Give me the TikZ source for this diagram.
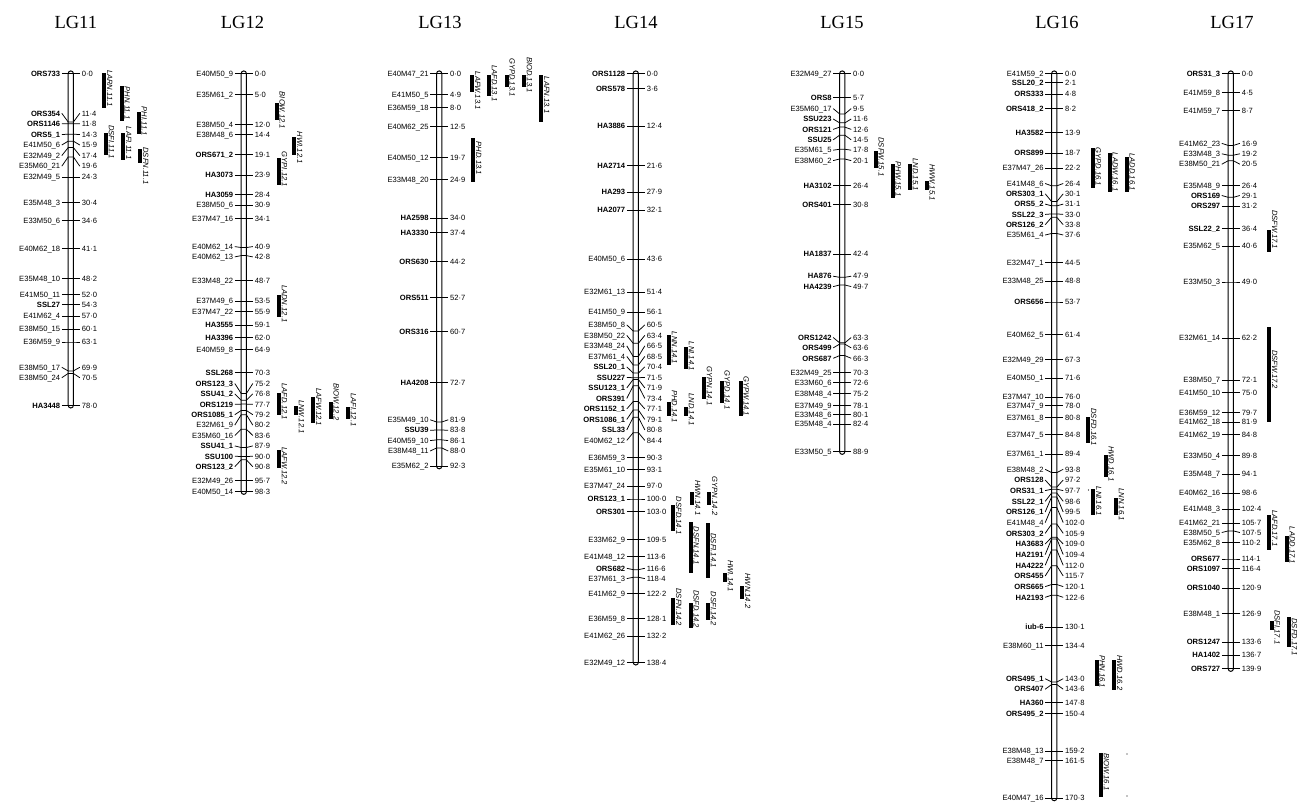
\documentclass[tikz,border=0pt]{standalone}
\usepackage{fontspec}
\setmainfont{Liberation Sans}
\newfontfamily\ttlfont{Liberation Serif}
\tikzset{
  chr/.style={line width=1pt},
  tk/.style={line width=0.75pt},
  mr/.style={anchor=east, inner sep=0pt, font=\fontsize{7.6}{8}\selectfont, text height=5.4pt, text depth=0pt},
  mb/.style={mr, font=\fontsize{7.6}{8}\selectfont\bfseries},
  mnum/.style={anchor=west, inner sep=0pt, font=\fontsize{7.6}{8}\selectfont, text height=5.4pt, text depth=0pt},
  qlab/.style={rotate=-90, anchor=south west, inner sep=0pt, font=\fontsize{7.6}{8}\selectfont\itshape, text depth=0pt},
  ttl/.style={font=\ttlfont\fontsize{18.5}{20}\selectfont, inner sep=0pt},
  speck/.style={fill=black, inner sep=0pt, minimum size=1.1pt, circle}
}
\def\dotnum#1.#2\relax{#1·#2}
\newcount\mkcnt
\newcommand\mk[5]{%
  \global\advance\mkcnt by 1
  \pgfmathsetmacro\ty{73.5+4.255*#2}%
  \pgfmathsetmacro\ly{(#3<0)?\ty:#3}%
  \edef\tmpnum{#2}%
  \draw[tk] (#1-9,\ly) -- (#1-2.6,\ty) -- (#1+2.6,\ty) -- (#1+9,\ly);
  \node[#5] (mk\the\mkcnt) at (#1-10.4,\ly) {#4};
  \node[mnum] (mv\the\mkcnt) at (#1+10.8,\ly) {\expandafter\dotnum\tmpnum\relax};
}
\newcommand\chrom[2]{%
  \pgfmathsetmacro\yb{73.5+4.255*#2+2.6}%
  \draw[chr, rounded corners=2.6pt] (#1-2.6,70.9) rectangle (#1+2.6,\yb);
}
\newcount\qcnt
\newcommand\qtl[5]{%
  \global\advance\qcnt by 1
  \fill (#1-2,#2) rectangle (#1+2,#3);
  \node[qlab] (q\the\qcnt) at (#1+2.7,#4) {#5};
}
\begin{document}
\begin{tikzpicture}[x=1pt,y=-1pt]
\useasboundingbox (0,0) rectangle (1299,803);
\fill[white] (0,0) rectangle (1299,803);
% titles
\node[ttl] (t11) at (75.8,22) {LG11};
\node[ttl] (t12) at (242.5,22) {LG12};
\node[ttl] (t13) at (440,22) {LG13};
\node[ttl] (t14) at (636,22) {LG14};
\node[ttl] (t15) at (842,22) {LG15};
\node[ttl] (t16) at (1057,22) {LG16};
\node[ttl] (t17) at (1232,22) {LG17};
% ---------------- LG11
\chrom{70.8}{78.0}
\foreach \c/\l/\n/\s in {0.0/-1/ORS733/mb, 11.4/113.3/ORS354/mb, 11.8/123.8/ORS1146/mb, 14.3/134.4/ORS5\_1/mb,
 15.9/145.0/E41M50\_6/mr, 17.4/155.6/E32M49\_2/mr, 19.6/166.2/E35M60\_21/mr, 24.3/-1/E32M49\_5/mr,
 30.4/-1/E35M48\_3/mr, 34.6/-1/E33M50\_6/mr, 41.1/-1/E40M62\_18/mr, 48.2/-1/E35M48\_10/mr,
 52.0/-1/E41M50\_11/mr, 54.3/-1/SSL27/mb, 57.0/-1/E41M62\_4/mr, 60.1/-1/E38M50\_15/mr,
 63.1/-1/E36M59\_9/mr, 69.9/367.3/E38M50\_17/mr, 70.5/377.7/E38M50\_24/mr, 78.0/-1/HA3448/mb}
 {\mk{70.8}{\c}{\l}{\n}{\s}}
\qtl{104.3}{73.3}{108.3}{70}{LARN.11.1}
\qtl{121.7}{86}{121}{86.7}{PHN.11.1}
\qtl{138.7}{111.7}{134}{106.7}{PHI.11.1}
\qtl{106}{132.7}{155}{125}{DSFI.11.1}
\qtl{123.3}{132.7}{160}{126.7}{LAFI.11.1}
\qtl{140.3}{149.3}{162.7}{147.3}{DSFN.11.1}
% ---------------- LG12
\chrom{243.8}{98.3}
\foreach \c/\l/\n/\s in {0.0/-1/E40M50\_9/mr, 5.0/-1/E35M61\_2/mr, 12.0/-1/E38M50\_4/mr, 14.4/-1/E38M48\_6/mr,
 19.1/-1/ORS671\_2/mb, 23.9/-1/HA3073/mb, 28.4/-1/HA3059/mb, 30.9/-1/E38M50\_6/mr, 34.1/-1/E37M47\_16/mr,
 40.9/246.6/E40M62\_14/mr, 42.8/256.9/E40M62\_13/mr, 48.7/-1/E33M48\_22/mr, 53.5/-1/E37M49\_6/mr,
 55.9/-1/E37M47\_22/mr, 59.1/-1/HA3555/mb, 62.0/-1/HA3396/mb, 64.9/-1/E40M59\_8/mr, 70.3/-1/SSL268/mb,
 75.2/383.5/ORS123\_3/mb, 76.8/393.9/SSU41\_2/mb, 77.7/404.3/ORS1219/mb, 79.2/414.7/ORS1085\_1/mb,
 80.2/425.1/E32M61\_9/mr, 83.6/435.5/E35M60\_16/mr, 87.9/445.9/SSU41\_1/mb, 90.0/456.3/SSU100/mb,
 90.8/466.7/ORS123\_2/mb, 95.7/-1/E32M49\_26/mr, 98.3/-1/E40M50\_14/mr}
 {\mk{243.8}{\c}{\l}{\n}{\s}}
\qtl{276.7}{103.3}{120}{91.7}{BIOW.12.1}
\qtl{294.3}{136.7}{155}{131.7}{HWI.12.1}
\qtl{279}{158.3}{185}{151.7}{GYPI.12.1}
\qtl{279}{295}{316.7}{285}{LADN.12.1}
\qtl{279}{393.3}{415}{383.3}{LAFD.12.1}
\qtl{296}{406}{415}{400}{LNW.12.1}
\qtl{313.3}{397}{423}{388}{LAFW.12.1}
\qtl{330.7}{401.7}{419}{383.3}{BIOW.12.2}
\qtl{348}{406.7}{419}{393.3}{LAFI.12.1}
\qtl{279}{450}{468}{447}{LAFW.12.2}
% ---------------- LG13
\chrom{439.2}{92.3}
\foreach \c/\l/\n/\s in {0.0/-1/E40M47\_21/mr, 4.9/-1/E41M50\_5/mr, 8.0/-1/E36M59\_18/mr, 12.5/-1/E40M62\_25/mr,
 19.7/-1/E40M50\_12/mr, 24.9/-1/E33M48\_20/mr, 34.0/-1/HA2598/mb, 37.4/-1/HA3330/mb, 44.2/-1/ORS630/mb,
 52.7/-1/ORS511/mb, 60.7/-1/ORS316/mb, 72.7/-1/HA4208/mb, 81.9/419.8/E35M49\_10/mr, 83.8/430.2/SSU39/mb,
 86.1/440.6/E40M59\_10/mr, 88.0/451.0/E38M48\_11/mr, 92.3/-1/E35M62\_2/mr}
 {\mk{439.2}{\c}{\l}{\n}{\s}}
\qtl{472.3}{75}{91.7}{71.7}{LAFW.13.1}
\qtl{489}{75}{96}{65}{LAFD.13.1}
\qtl{506.7}{75}{87.3}{58}{GYPD.13.1}
\qtl{524}{75}{87.3}{57}{BIOD.13.1}
\qtl{541.3}{75}{121.7}{76.7}{LAFN.13.1}
\qtl{473.3}{138.3}{181.7}{141.7}{PHD.13.1}
% ---------------- LG14
\chrom{635.8}{138.4}
\foreach \c/\l/\n/\s in {0.0/-1/ORS1128/mb, 3.6/-1/ORS578/mb, 12.4/-1/HA3886/mb, 21.6/-1/HA2714/mb,
 27.9/-1/HA293/mb, 32.1/-1/HA2077/mb, 43.6/-1/E40M50\_6/mr, 51.4/-1/E32M61\_13/mr, 56.1/-1/E41M50\_9/mr,
 60.5/324.9/E38M50\_8/mr, 63.4/335.4/E38M50\_22/mr, 66.5/345.9/E33M48\_24/mr, 68.5/356.4/E37M61\_4/mr,
 70.4/366.9/SSL20\_1/mb, 71.5/377.4/SSU227/mb, 71.9/387.9/SSU123\_1/mb, 73.4/398.4/ORS391/mb,
 77.1/408.9/ORS1152\_1/mb, 79.1/419.4/ORS1086\_1/mb, 80.8/429.9/SSL33/mb, 84.4/440.4/E40M62\_12/mr,
 90.3/-1/E36M59\_3/mr, 93.1/-1/E35M61\_10/mr, 97.0/-1/E37M47\_24/mr, 100.0/-1/ORS123\_1/mb,
 103.0/-1/ORS301/mb, 109.5/-1/E33M62\_9/mr, 113.6/-1/E41M48\_12/mr, 116.6/568.3/ORS682/mb,
 118.4/578.6/E37M61\_3/mr, 122.2/-1/E41M62\_9/mr, 128.1/-1/E36M59\_8/mr, 132.2/-1/E41M62\_26/mr,
 138.4/-1/E32M49\_12/mr}
 {\mk{635.8}{\c}{\l}{\n}{\s}}
\qtl{669}{335}{365}{331.7}{LNN.14.1}
\qtl{686}{346.7}{369.3}{341.7}{LNI.14.1}
\qtl{704}{376.7}{399.3}{366.7}{GYPN.14.1}
\qtl{721.7}{380.7}{402.7}{370.7}{GYPD.14.1}
\qtl{740.7}{380.7}{416}{376}{GYPW.14.1}
\qtl{669}{401.7}{416}{390}{PHD.14.1}
\qtl{686}{406.7}{416}{393.3}{LND.14.1}
\qtl{692.3}{491.7}{505}{480}{HWN.14.1}
\qtl{709.3}{491.7}{505}{476.7}{GYPN.14.2}
\qtl{673.3}{505}{531}{496.7}{DSFD.14.1}
\qtl{690.7}{521.7}{573.3}{526.7}{DSFN.14.1}
\qtl{708}{523.3}{577.7}{533.3}{DSFI.14.1}
\qtl{725}{573.3}{581.7}{560}{HWI.14.1}
\qtl{742.3}{586}{599.3}{573.3}{HWN.14.2}
\qtl{673.3}{598.3}{625}{588.3}{DSFN.14.2}
\qtl{690.7}{602.7}{628}{590}{DSFD.14.2}
\qtl{708}{602.7}{620}{591.7}{DSFI.14.2}
% ---------------- LG15
\chrom{842.2}{88.9}
\foreach \c/\l/\n/\s in {0.0/-1/E32M49\_27/mr, 5.7/-1/ORS8/mb, 9.5/108.6/E35M60\_17/mr, 11.6/119.0/SSU223/mb,
 12.6/129.4/ORS121/mb, 14.5/139.8/SSU25/mb, 17.8/150.2/E35M61\_5/mr, 20.1/160.6/E38M60\_2/mr,
 26.4/-1/HA3102/mb, 30.8/-1/ORS401/mb, 42.4/-1/HA1837/mb, 47.9/276.2/HA876/mb, 49.7/286.6/HA4239/mb,
 63.3/337.5/ORS1242/mb, 63.6/347.9/ORS499/mb, 66.3/358.3/ORS687/mb, 70.3/-1/E32M49\_25/mr,
 72.6/-1/E33M60\_6/mr, 75.2/-1/E38M48\_4/mr, 78.1/-1/E37M49\_9/mr, 80.1/-1/E33M48\_6/mr,
 82.4/-1/E35M48\_4/mr, 88.9/-1/E33M50\_5/mr}
 {\mk{842.2}{\c}{\l}{\n}{\s}}
\qtl{875.7}{150.7}{168.3}{137.3}{DSFW.15.1}
\qtl{892.7}{164}{198.3}{161.7}{PHW.15.1}
\qtl{910}{164}{190}{158.3}{LND.15.1}
\qtl{926.7}{181}{190}{164}{HWW.15.1}
% ---------------- LG16
\chrom{1054.2}{170.3}
\foreach \c/\l/\n/\s in {0.0/-1/E41M59\_2/mr, 2.1/-1/SSL20\_2/mb, 4.8/-1/ORS333/mb, 8.2/-1/ORS418\_2/mb,
 13.9/-1/HA3582/mb, 18.7/-1/ORS899/mb, 22.2/-1/E37M47\_26/mr, 26.4/183.5/E41M48\_6/mr,
 30.1/193.8/ORS303\_1/mb, 31.1/204.1/ORS5\_2/mb, 33.0/214.4/SSL22\_3/mb, 33.8/224.7/ORS126\_2/mb,
 37.6/235.0/E35M61\_4/mr, 44.5/-1/E32M47\_1/mr, 48.8/-1/E33M48\_25/mr, 53.7/-1/ORS656/mb,
 61.4/-1/E40M62\_5/mr, 67.3/-1/E32M49\_29/mr, 71.6/-1/E40M50\_1/mr, 76.0/-1/E37M47\_10/mr,
 78.0/-1/E37M47\_9/mr, 80.8/-1/E37M61\_8/mr, 84.8/-1/E37M47\_5/mr, 89.4/-1/E37M61\_1/mr,
 93.8/469.3/E38M48\_2/mr, 97.2/480.0/ORS128/mb, 97.7/490.6/ORS31\_1/mb, 98.6/501.3/SSL22\_1/mb,
 99.5/512.0/ORS126\_1/mb, 102.0/522.6/E41M48\_4/mr, 105.9/533.3/ORS303\_2/mb, 109.0/544.0/HA3683/mb,
 109.4/554.6/HA2191/mb, 112.0/565.3/HA4222/mb, 115.7/576.0/ORS455/mb, 120.1/586.6/ORS665/mb,
 122.6/597.3/HA2193/mb, 130.1/-1/iub-6/mb, 134.4/-1/E38M60\_11/mr, 143.0/678.7/ORS495\_1/mb,
 143.6/689.2/ORS407/mb, 147.8/-1/HA360/mb, 150.4/-1/ORS495\_2/mb, 159.2/-1/E38M48\_13/mr,
 161.5/-1/E38M48\_7/mr, 170.3/-1/E40M47\_16/mr}
 {\mk{1054.2}{\c}{\l}{\n}{\s}}
\qtl{1092.7}{148.3}{187.7}{147.3}{GYPD.16.1}
\qtl{1109.7}{152.7}{191.7}{152.7}{LADW.16.1}
\qtl{1126.7}{156.7}{191.7}{153.3}{LADD.16.1}
\qtl{1088.3}{416.7}{443.3}{408.3}{DSFD.16.1}
\qtl{1105.7}{455}{476.7}{446}{HWD.16.1}
\qtl{1093.3}{489.3}{515}{486.7}{LNI.16.1}
\qtl{1116}{498.3}{515}{488.3}{LNN.16.1}
\qtl{1096.7}{660}{686}{655}{PHN.16.1}
\qtl{1114.3}{660}{690}{655}{HWD.16.2}
\qtl{1101}{753.3}{796.7}{753.3}{BIOW.16.1}
\node[speck] (s1) at (1088.5,490) {};
\node[speck] (s2) at (1127,754) {};
\node[speck] (s3) at (1127,796) {};
% ---------------- LG17
\chrom{1230.8}{139.9}
\foreach \c/\l/\n/\s in {0.0/-1/ORS31\_3/mb, 4.5/-1/E41M59\_8/mr, 8.7/-1/E41M59\_7/mr,
 16.9/143.4/E41M62\_23/mr, 19.2/153.8/E33M48\_3/mr, 20.5/164.2/E38M50\_21/mr, 26.4/-1/E35M48\_9/mr,
 29.1/195.5/ORS169/mb, 31.2/-1/ORS297/mb, 36.4/-1/SSL22\_2/mb, 40.6/-1/E35M62\_5/mr,
 49.0/-1/E33M50\_3/mr, 62.2/-1/E32M61\_14/mr, 72.1/-1/E38M50\_7/mr, 75.0/-1/E41M50\_10/mr,
 79.7/-1/E36M59\_12/mr, 81.9/-1/E41M62\_18/mr, 84.8/-1/E41M62\_19/mr, 89.8/-1/E33M50\_4/mr,
 94.1/-1/E35M48\_7/mr, 98.6/-1/E40M62\_16/mr, 102.4/-1/E41M48\_3/mr, 105.7/-1/E41M62\_21/mr,
 107.5/532.5/E38M50\_5/mr, 110.2/-1/E35M62\_8/mr, 114.1/-1/ORS677/mb, 116.4/-1/ORS1097/mb,
 120.9/-1/ORS1040/mb, 126.9/-1/E38M48\_1/mr, 133.6/-1/ORS1247/mb, 136.7/-1/HA1402/mb,
 139.9/-1/ORS727/mb}
 {\mk{1230.8}{\c}{\l}{\n}{\s}}
\qtl{1269.3}{230}{251.7}{210}{DSFW.17.1}
\qtl{1269.3}{326.7}{421.7}{350}{DSFW.17.2}
\qtl{1269.3}{515}{550}{510}{LAFD.17.1}
\qtl{1286.7}{536}{562.3}{526.7}{LADD.17.1}
\qtl{1271.7}{621}{630}{610}{DSFI.17.1}
\qtl{1289}{616.7}{646.7}{618.3}{DSFD.17.1}
\end{tikzpicture}
\end{document}
